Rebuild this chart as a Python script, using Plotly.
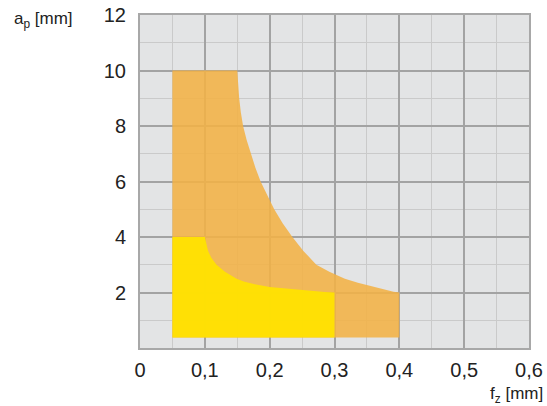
import plotly.graph_objects as go

# Outer (orange) application range boundary
orange_x = [0.05, 0.05, 0.150, 0.1513, 0.153, 0.1555, 0.159, 0.1645, 0.171, 0.178, 0.186, 0.196,
            0.207, 0.220, 0.235, 0.252, 0.272, 0.292, 0.316, 0.336, 0.352, 0.369, 0.381, 0.391,
            0.400, 0.400, 0.05]
orange_y = [0.38, 10.0, 10.0, 9.5, 9.0, 8.5, 8.0, 7.5, 7.0, 6.5, 6.0, 5.5,
            5.0, 4.5, 4.0, 3.5, 3.0, 2.75, 2.5, 2.35, 2.25, 2.15, 2.08, 2.03,
            2.0, 0.38, 0.38]

# Inner (yellow) range boundary
yellow_x = [0.05, 0.05, 0.100, 0.102, 0.105, 0.110, 0.118, 0.131, 0.149, 0.160, 0.177, 0.200,
            0.242, 0.265, 0.285, 0.300, 0.300, 0.05]
yellow_y = [0.38, 4.0, 4.0, 3.75, 3.5, 3.25, 3.0, 2.75, 2.5, 2.4, 2.3, 2.2,
            2.1, 2.05, 2.02, 2.0, 0.38, 0.38]

x_ticks = [0, 0.1, 0.2, 0.3, 0.4, 0.5, 0.6]
x_labels = ["0", "0,1", "0,2", "0,3", "0,4", "0,5", "0,6"]
y_ticks = [2, 4, 6, 8, 10, 12]
y_labels = ["2", "4", "6", "8", "10", "12"]

fig = go.Figure()
fig.add_trace(go.Scatter(x=orange_x, y=orange_y, mode="lines", fill="toself",
                         fillcolor="rgba(242,178,70,0.88)", line=dict(width=0),
                         hoverinfo="skip", showlegend=False))
fig.add_trace(go.Scatter(x=yellow_x, y=yellow_y, mode="lines", fill="toself",
                         fillcolor="rgba(255,226,0,0.94)", line=dict(width=0),
                         hoverinfo="skip", showlegend=False))

font = "Liberation Sans"
fig.update_layout(
    width=547, height=406,
    margin=dict(l=140, r=18, t=15, b=58, autoexpand=False),
    paper_bgcolor="white", plot_bgcolor="#e3e4e5",
    font=dict(family=font, size=20, color="#222"),
    xaxis=dict(range=[0, 0.6], tickvals=x_ticks, ticktext=x_labels,
               tickfont=dict(family=font, size=20, color="#222"),
               showgrid=True, gridcolor="#a3a3a3", gridwidth=2,
               minor=dict(dtick=0.05, showgrid=True, gridcolor="#cacaca", gridwidth=1),
               zeroline=False, showline=True, linecolor="#a8a8a8", linewidth=2, mirror=True,
               ticks="outside", ticklen=3, tickcolor="rgba(0,0,0,0)", fixedrange=True),
    yaxis=dict(range=[0, 12], tickvals=y_ticks, ticktext=y_labels,
               tickfont=dict(family=font, size=20, color="#222"),
               showgrid=True, gridcolor="#a3a3a3", gridwidth=2,
               minor=dict(dtick=1, showgrid=True, gridcolor="#cacaca", gridwidth=1),
               zeroline=False, showline=True, linecolor="#a8a8a8", linewidth=2, mirror=True,
               ticks="outside", ticklen=8, tickcolor="rgba(0,0,0,0)", fixedrange=True),
    annotations=[
        dict(text="a<sub>p</sub> [mm]", xref="paper", yref="paper", x=-0.329, y=0.985,
             xanchor="left", yanchor="middle", showarrow=False,
             font=dict(family=font, size=17, color="#222")),
        dict(text="f<sub>z</sub> [mm]", xref="paper", yref="paper", x=1.041, y=-0.142,
             xanchor="right", yanchor="middle", showarrow=False,
             font=dict(family=font, size=17, color="#222")),
    ],
)

fig.write_html("out.html", config={"displayModeBar": False, "staticPlot": True},
               post_script="document.body.style.margin='0';document.body.style.padding='0';")
